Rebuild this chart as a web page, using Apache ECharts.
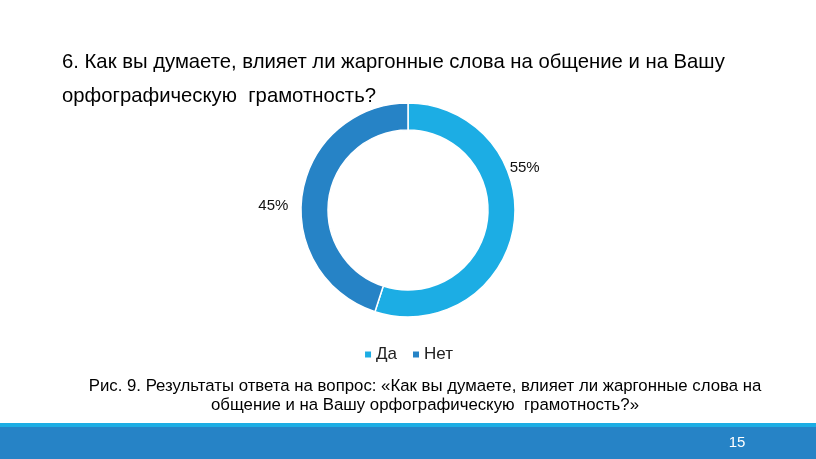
<!DOCTYPE html>
<html>
<head>
<meta charset="utf-8">
<script src="https://cdn.jsdelivr.net/npm/echarts@6/dist/echarts.min.js"></script>
<style>
html,body{margin:0;padding:0;background:#fff;}
#c{width:816px;height:459px;}
</style>
</head>
<body>
<div id="c"></div>
<script>
const categories = ['Да', 'Нет'];
const values = [55, 45];
const colors = ['#1CADE4', '#2683C6'];
const titleLines = ['6. Как вы думаете, влияет ли жаргонные слова на общение и на Вашу', 'орфографическую  грамотность?'];
const captionLines = ['Рис. 9. Результаты ответа на вопрос: «Как вы думаете, влияет ли жаргонные слова на', 'общение и на Вашу орфографическую  грамотность?»'];
const pageNumber = '15';

const chart = echarts.init(document.getElementById('c'), null, {renderer: 'canvas'});
const font = '"Liberation Sans", Arial, sans-serif';
const labelShift = [[-13, -60], [-5, 13]];
chart.setOption({
  animation: false,
  color: colors,
  textStyle: {fontFamily: font},
  graphic: [
    {type: 'rect', shape: {x: 0, y: 423, width: 816, height: 4}, style: {fill: '#1CADE4'}},
    {type: 'rect', shape: {x: 0, y: 427, width: 816, height: 32}, style: {fill: '#2683C6'}},
    {type: 'text', x: 737, y: 443, style: {text: pageNumber, fill: '#fff', font: '15px ' + font, textAlign: 'center', textVerticalAlign: 'middle'}},
    {type: 'text', x: 62, y: 62, style: {text: titleLines[0], fill: '#000', font: '20.3px ' + font, textVerticalAlign: 'middle'}},
    {type: 'text', x: 62, y: 96, style: {text: titleLines[1], fill: '#000', font: '20.3px ' + font, textVerticalAlign: 'middle'}},
    {type: 'text', x: 425, y: 386, style: {text: captionLines[0], fill: '#000', font: '16.8px ' + font, textAlign: 'center', textVerticalAlign: 'middle'}},
    {type: 'text', x: 425, y: 405, style: {text: captionLines[1], fill: '#000', font: '16.8px ' + font, textAlign: 'center', textVerticalAlign: 'middle'}}
  ],
  legend: {
    data: categories,
    top: 341,
    left: 'center',
    icon: 'rect',
    itemWidth: 8,
    itemHeight: 8,
    itemGap: 14,
    textStyle: {fontSize: 17, color: '#222', fontFamily: font, padding: [0, 0, 0, -1]}
  },
  series: [{
    type: 'pie',
    center: [408, 210],
    radius: [80, 107],
    startAngle: 90,
    clockwise: true,
    itemStyle: {borderColor: '#fff', borderWidth: 1.5},
    label: {show: true, position: 'outside', formatter: '{d}%', fontSize: 15, color: '#111', fontFamily: font},
    labelLine: {show: false, length: 4, length2: 0},
    labelLayout: function (p) { return {dx: labelShift[p.dataIndex][0], dy: labelShift[p.dataIndex][1]}; },
    emphasis: {disabled: true},
    data: categories.map((c, i) => ({name: c, value: values[i]}))
  }]
});
</script>
</body>
</html>
